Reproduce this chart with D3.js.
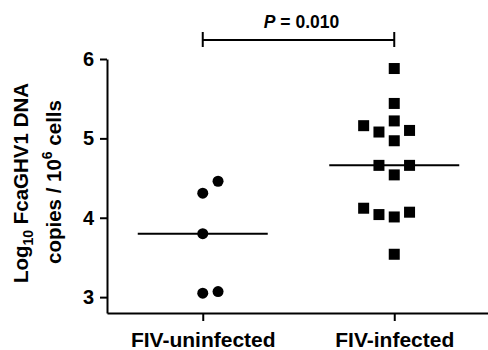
<!DOCTYPE html>
<html>
<head>
<meta charset="utf-8">
<script src="https://cdn.jsdelivr.net/npm/d3@7"></script>
<style>
  body { margin: 0; background: #fff; }
  svg { display: block; font-family: "Liberation Sans", Arial, sans-serif; font-weight: bold; }
</style>
</head>
<body>
<div id="chart"></div>
<script>
'use strict';

// groups on the x axis
var categories = ["FIV-uninfected", "FIV-infected"];

// log10 copies / 10^6 cells
var uninfectedValues = [4.46, 4.31, 3.80, 3.05, 3.07];
var infectedValues = [5.88, 5.44, 5.22, 5.16, 5.08, 5.10, 4.97, 4.66, 4.66, 4.54, 4.12, 4.04, 4.01, 4.07, 3.54];

// side-by-side slot of each point (scatter spread), in symbol widths
var uninfectedSlots = [1, 0, 0, 0, 1];
var infectedSlots = [0, 0, 0, -2, -1, 1, 0, -1, 1, 0, -2, -1, 0, 1, 0];

var yTicks = [3, 4, 5, 6];
var pLabel = "0.010";

var svgWidth = 488, svgHeight = 350;
var svg = d3.select("#chart").append("svg")
  .attr("width", svgWidth)
  .attr("height", svgHeight);

var x = d3.scalePoint().domain(categories).range([107, 490]).padding(0.5);
var y = d3.scaleLinear().domain([2.8, 6]).range([313, 59]);

var slotW = 15.3;
var sym = 11;

// y axis
var yAxis = svg.append("g")
  .attr("transform", "translate(107,0)")
  .call(d3.axisLeft(y).tickValues(yTicks).tickFormat(d3.format("d")).tickSize(7).tickSizeOuter(0).tickPadding(6));

// x axis
var xAxis = svg.append("g")
  .attr("transform", "translate(0,313)")
  .call(d3.axisBottom(x).tickSize(8).tickSizeOuter(0).tickPadding(11));

svg.selectAll(".domain, .tick line")
  .attr("stroke", "#000")
  .attr("stroke-width", 2);
yAxis.selectAll("text").attr("font-size", 20).attr("fill", "#000");
xAxis.selectAll("text").attr("font-size", 21).attr("fill", "#000");

// y label
var lab1 = svg.append("text")
  .attr("transform", "translate(28,183) rotate(-90)")
  .attr("text-anchor", "middle")
  .attr("font-size", 20.5);
lab1.append("tspan").text("Log");
lab1.append("tspan").attr("font-size", 14).attr("dy", 5).text("10");
lab1.append("tspan").attr("dy", -5).text(" FcaGHV1 DNA");

var lab2 = svg.append("text")
  .attr("transform", "translate(61,182) rotate(-90)")
  .attr("text-anchor", "middle")
  .attr("font-size", 20.5);
lab2.append("tspan").text("copies / 10");
lab2.append("tspan").attr("font-size", 14).attr("dy", -9).text("6");
lab2.append("tspan").attr("dy", 9).text(" cells");

// points
var uninf = uninfectedValues.map(function(v, i) { return {v: v, s: uninfectedSlots[i]}; });
var inf = infectedValues.map(function(v, i) { return {v: v, s: infectedSlots[i]}; });

svg.append("g").selectAll("circle")
  .data(uninf)
  .enter().append("circle")
  .attr("cx", function(d) { return x(categories[0]) + d.s * slotW; })
  .attr("cy", function(d) { return y(d.v); })
  .attr("r", sym / 2)
  .attr("fill", "#000");

svg.append("g").selectAll("rect")
  .data(inf)
  .enter().append("rect")
  .attr("x", function(d) { return x(categories[1]) + d.s * slotW - sym / 2; })
  .attr("y", function(d) { return y(d.v) - sym / 2; })
  .attr("width", sym)
  .attr("height", sym)
  .attr("fill", "#000");

// median lines
var medians = [d3.median(uninfectedValues), d3.median(infectedValues)];
svg.append("g").selectAll("line")
  .data(medians)
  .enter().append("line")
  .attr("x1", function(d, i) { return x(categories[i]) - 65; })
  .attr("x2", function(d, i) { return x(categories[i]) + 65; })
  .attr("y1", function(d) { return y(d); })
  .attr("y2", function(d) { return y(d); })
  .attr("stroke", "#000")
  .attr("stroke-width", 2);

// significance bracket
var by = 40;
var br = svg.append("g").attr("stroke", "#000").attr("stroke-width", 2);
br.append("line").attr("x1", x(categories[0])).attr("x2", x(categories[1])).attr("y1", by).attr("y2", by);
categories.forEach(function(c) {
  br.append("line").attr("x1", x(c)).attr("x2", x(c)).attr("y1", by - 8).attr("y2", by + 7);
});

var pt = svg.append("text")
  .attr("x", (x(categories[0]) + x(categories[1])) / 2 + 3)
  .attr("y", 28)
  .attr("text-anchor", "middle")
  .attr("font-size", 17.5);
pt.append("tspan").attr("font-style", "italic").text("P");
pt.append("tspan").text(" = " + pLabel);
</script>
</body>
</html>
